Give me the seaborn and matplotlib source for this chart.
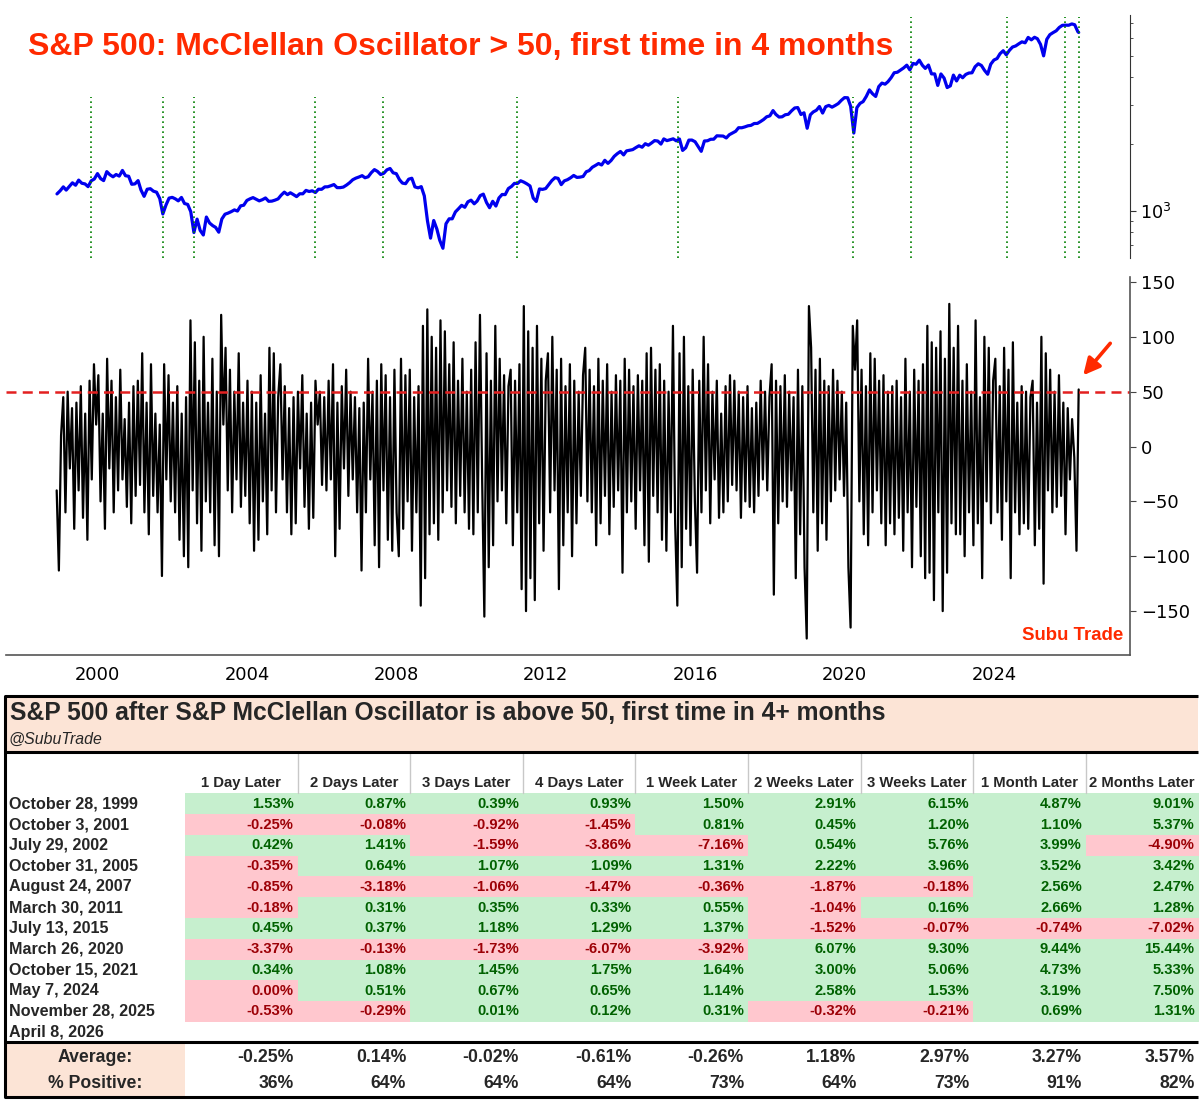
import matplotlib
matplotlib.use("Agg")
import matplotlib.pyplot as plt
import matplotlib.dates as mdates
from matplotlib.patches import Rectangle
from matplotlib.ticker import NullFormatter
import seaborn as sns
import pandas as pd

# ---------------- data ----------------
# S&P 500, one value per month (Nov 1998 .. Mar 2026) plus Apr 8 2026
price = [
    1190, 1229,
    1280, 1238, 1286, 1335, 1302, 1373, 1329, 1320, 1283, 1363, 1389, 1469,
    1394, 1366, 1499, 1452, 1421, 1455, 1431, 1518, 1437, 1429, 1315, 1320,
    1366, 1240, 1160, 1249, 1256, 1224, 1211, 1134, 966, 1060, 1139, 1148,
    1130, 1107, 1147, 1077, 1067, 990, 797, 916, 815, 777, 936, 880,
    856, 841, 800, 917, 964, 975, 990, 1008, 996, 1051, 1058, 1112,
    1131, 1145, 1126, 1107, 1121, 1141, 1102, 1104, 1115, 1130, 1174, 1212,
    1181, 1204, 1181, 1157, 1192, 1191, 1234, 1220, 1229, 1207, 1249, 1248,
    1280, 1281, 1295, 1311, 1270, 1270, 1277, 1304, 1336, 1378, 1401, 1418,
    1438, 1407, 1421, 1482, 1531, 1503, 1455, 1474, 1527, 1549, 1481, 1468,
    1379, 1331, 1323, 1386, 1400, 1280, 1267, 1283, 1166, 899, 752, 903,
    826, 735, 677, 873, 919, 919, 987, 1021, 1057, 1036, 1096, 1115,
    1074, 1104, 1169, 1187, 1089, 1031, 1102, 1049, 1141, 1183, 1181, 1258,
    1286, 1327, 1326, 1364, 1345, 1321, 1292, 1140, 1100, 1253, 1247, 1258,
    1312, 1366, 1408, 1398, 1310, 1362, 1379, 1407, 1441, 1412, 1416, 1426,
    1498, 1515, 1569, 1598, 1631, 1606, 1686, 1633, 1682, 1757, 1806, 1848,
    1783, 1859, 1872, 1884, 1924, 1960, 1931, 2003, 1972, 2018, 2068, 2059,
    1995, 2105, 2068, 2086, 2107, 2063, 2104, 1868, 1920, 2079, 2080, 2044,
    1940, 1850, 2060, 2065, 2097, 2099, 2174, 2171, 2168, 2126, 2199, 2239,
    2279, 2364, 2363, 2384, 2412, 2423, 2470, 2472, 2519, 2575, 2648, 2674,
    2824, 2714, 2641, 2648, 2705, 2718, 2816, 2902, 2914, 2712, 2760, 2351,
    2704, 2784, 2834, 2946, 2752, 2942, 2980, 2926, 2977, 3038, 3141, 3231,
    3226, 2954, 2237, 2912, 3044, 3100, 3271, 3500, 3363, 3270, 3622, 3756,
    3714, 3811, 3973, 4181, 4204, 4298, 4395, 4523, 4308, 4605, 4567, 4766,
    4516, 4374, 4530, 4132, 4132, 3667, 4130, 3955, 3586, 3650, 4080, 3840,
    4077, 3970, 4109, 4169, 4180, 4450, 4589, 4508, 4288, 4117, 4568, 4770,
    4846, 5096, 5254, 5036, 5278, 5460, 5522, 5648, 5762, 5705, 6032, 5882,
    6041, 5955, 5612, 4983, 5912, 6205, 6339, 6460, 6688, 6840, 6849, 6845,
    6939, 6880, 6400,
    6350,
]
price_dates = list(pd.date_range("1998-11-30", "2026-03-31", freq="ME")) + [pd.Timestamp("2026-04-08")]

# McClellan oscillator, roughly every three weeks (Nov 1998 .. Apr 8 2026)
osc = [
    -40, -113, 10,
    45, -60, 50, -20, 35, -75, 40, -40, 55, -65, 30, -85, 60, -30, 75, 20, 65,
    -50, 30, -75, 80, -20, 60, -60, 45, -40, 70, -30, 25, -55, 40, -70, 55, -45,
    60, -35, 85, -60, 40, -80, 75, -45, 30, -60, 20, -118, 75, -30, 65, -50, 40,
    -60, 55, -85, 30, -100, 45, -110, 115, -40, 95, -70, 60, -95, 100, -50, 40, -60,
    80, -90, 50, -100, 120, 20, 90, -40, 70, -60, 50, -30, 85, -55, 40, -45, 60,
    -70, 50, -95, 40, -85, 65, -50, 30, -80, 90, -40, 85, -60, 45, 75, -30, 55,
    -60, 35, -80, 45, -70, 50, -20, 65, -55, 30, -75, 40, -65, 60, 20, 50, -35,
    45, -40, 60, -30, 75, -100, 40, -75, 55, -20, 70, -45, 50, -30, 45, -60, 35,
    -113, 40, -60, 80, -30, 50, -90, 60, -110, 75, -40, 65, -85, 45, -95, 70, -60,
    -100, 80, -75, 65, -50, 70, -95, 45, -60, 55, -145, 110, -120, 125, -80, 100, -70,
    90, -85, 115, -60, 105, -40, 75, -55, 95, -70, 60, -45, 80, -60, 50, -75, 70,
    -80, 95, -60, 120, -30, -155, 85, -110, 60, -90, 110, -50, 80, -40, 65, -70, 55,
    70, -90, 60, -60, 75, -130, 128, -150, 105, -120, 90, -140, 110, -70, 80, -95, 60,
    85, -60, 100, -40, 70, -130, 80, -90, 55, -60, 75, -100, 60, -70, 50, -45, 65,
    90, -50, 70, -60, 55, -90, 80, -70, 60, -45, 75, -80, 50, -55, 65, -40, 60,
    -115, 80, -60, 70, -50, 55, -75, 65, -40, 60, -90, 85, -105, 90, -45, 70, -60,
    75, -85, 60, -95, 50, -60, 110, -70, -145, 85, -110, 100, -75, 55, -90, 70, -50,
    -115, 60, -60, 100, -40, 75, -70, 50, -30, 60, -65, 30, -60, 55, -50, 65, -35,
    60, -40, 50, -65, 45, -50, 55, -55, 35, -60, 40, -45, 60, -30, 50, -40, 45,
    75, -135, 60, -70, 55, -50, 65, -55, 50, -40, 45, -120, 70, -80, 55, -110, -175,
    128, 90, -60, 70, -95, 80, -70, 60, -85, 55, -50, 70, -40, 60, -30, 50, -45,
    40, -110, -165, 110, 70, 115, -50, 70, -80, 55, -90, 85, -60, 80, -40, 60, -70,
    65, -90, 50, -70, 55, -80, 60, -65, 45, -95, 80, -60, 50, -110, 70, -55, 60,
    -100, 75, -120, 110, -115, 95, -140, 90, -60, 105, -150, 80, -115, 130, -70, 90, -80,
    110, -80, 60, -100, 75, -60, 50, -90, 115, -70, 45, -120, 100, -50, 90, -70, 60,
    80, -60, 55, -85, 90, -50, 70, -120, 95, -60, 40, -80, 55, -70, 50, -75, 45,
    60, -90, 40, -75, 100, -125, 85, -40, 70, -60, 50, -55, 65, -45, 40, -80, 35,
    -30, 25, -10, -95, 52,
]
osc_dates = pd.date_range("1998-11-27", "2026-04-08", periods=len(osc))

event_dates = pd.to_datetime([
    "1999-10-28", "2001-10-03", "2002-07-29", "2005-10-31", "2007-08-24",
    "2011-03-30", "2015-07-13", "2020-03-26", "2021-10-15", "2024-05-07",
    "2025-11-28", "2026-04-08",
])

horizons = ["1 Day Later", "2 Days Later", "3 Days Later", "4 Days Later", "1 Week Later",
            "2 Weeks Later", "3 Weeks Later", "1 Month Later", "2 Months Later"]
fwd_returns = [
    [1.53, 0.87, 0.39, 0.93, 1.50, 2.91, 6.15, 4.87, 9.01],
    [-0.25, -0.08, -0.92, -1.45, 0.81, 0.45, 1.20, 1.10, 5.37],
    [0.42, 1.41, -1.59, -3.86, -7.16, 0.54, 5.76, 3.99, -4.90],
    [-0.35, 0.64, 1.07, 1.09, 1.31, 2.22, 3.96, 3.52, 3.42],
    [-0.85, -3.18, -1.06, -1.47, -0.36, -1.87, -0.18, 2.56, 2.47],
    [-0.18, 0.31, 0.35, 0.33, 0.55, -1.04, 0.16, 2.66, 1.28],
    [0.45, 0.37, 1.18, 1.29, 1.37, -1.52, -0.07, -0.74, -7.02],
    [-3.37, -0.13, -1.73, -6.07, -3.92, 6.07, 9.30, 9.44, 15.44],
    [0.34, 1.08, 1.45, 1.75, 1.64, 3.00, 5.06, 4.73, 5.33],
    [0.00, 0.51, 0.67, 0.65, 1.14, 2.58, 1.53, 3.19, 7.50],
    [-0.53, -0.29, 0.01, 0.12, 0.31, -0.32, -0.21, 0.69, 1.31],
    [],
]
averages = [-0.25, 0.14, -0.02, -0.61, -0.26, 1.18, 2.97, 3.27, 3.57]
pct_positive = [36, 64, 64, 64, 73, 64, 73, 91, 82]

price_df = pd.DataFrame({"Date": price_dates, "Price": price})
osc_df = pd.DataFrame({"Date": osc_dates, "Osc": osc})

# ---------------- style ----------------
sns.set_style("white")
plt.rcParams["font.family"] = ["DejaVu Sans"]
ARIAL = "Liberation Sans"
RED = "#FF2A00"
W, H = 1200, 1110


def fy(y):
    return 1 - y / H


def year_ts(y):
    return pd.Timestamp("2000-01-01") + pd.Timedelta(days=(y - 2000) * 365.25)


fig = plt.figure(figsize=(12, 11.1), dpi=100)

# table canvas in pixel coordinates
tab = fig.add_axes([0, 0, 1, 1])
tab.set_xlim(0, W)
tab.set_ylim(H, 0)
tab.axis("off")

ax1 = fig.add_axes([6 / W, fy(258), 1124 / W, 243 / H])
ax2 = fig.add_axes([6 / W, fy(655), 1124 / W, 378 / H])
xlim = (year_ts(1997.548), year_ts(2027.641))

# ---- top panel: price ----
sns.lineplot(data=price_df, x="Date", y="Price", ax=ax1, color="#0000EE", linewidth=2.3)
ax1.set_yscale("log")
ax1.set_ylim(612, 7612)
ax1.set_xlim(*xlim)
for d in event_dates:
    ax1.axvline(d, ymin=0, ymax=0.663 if d.year < 2021 else 0.99,
                color="green", linestyle=(0, (1, 2)), linewidth=1.2)
ax1.yaxis.tick_right()
ax1.yaxis.set_minor_formatter(NullFormatter())
ax1.tick_params(axis="y", which="major", length=4, labelsize=12.7, colors="#333333", labelcolor="black")
ax1.tick_params(axis="y", which="minor", length=2.5, colors="#333333")
ax1.set_xticks([])
ax1.set_xlabel("")
ax1.set_ylabel("")
for s in ["left", "top", "bottom"]:
    ax1.spines[s].set_visible(False)
ax1.spines["right"].set_color("#333333")

# ---- middle panel: oscillator ----
sns.lineplot(data=osc_df, x="Date", y="Osc", ax=ax2, color="black", linewidth=1.6)
ax2.axhline(50, color="#E32020", linestyle=(0, (4, 2.5)), linewidth=1.8)
ax2.set_xlim(*xlim)
ax2.set_ylim(-190, 154.5)
ax2.set_yticks([-150, -100, -50, 0, 50, 100, 150])
ax2.yaxis.tick_right()
ax2.xaxis.set_major_locator(mdates.YearLocator(4))
ax2.xaxis.set_major_formatter(mdates.DateFormatter("%Y"))
ax2.tick_params(axis="both", length=4.5, labelsize=12.9, colors="#444444", labelcolor="black")
ax2.set_xlabel("")
ax2.set_ylabel("")
for s in ["left", "top"]:
    ax2.spines[s].set_visible(False)
for s in ["right", "bottom"]:
    ax2.spines[s].set_color("#555555")
    ax2.spines[s].set_linewidth(1.2)
ax2.annotate("", xy=(year_ts(2026.34), 63), xytext=(year_ts(2027.16), 96),
             arrowprops=dict(arrowstyle="-|>,head_length=1.0,head_width=0.5",
                             color=RED, lw=2.6))

fig.text(28 / W, fy(47), "S&P 500: McClellan Oscillator > 50, first time in 4 months",
         color=RED, fontsize=23, fontweight="bold", family=ARIAL, va="center", ha="left")
fig.text(1123 / W, fy(636), "Subu Trade", color=RED, fontsize=13.4, fontweight="bold",
         family=ARIAL, va="center", ha="right")

# ---------------- table ----------------
PEACH = "#FCE4D6"
GREEN_BG, GREEN_FG = "#C6EFCE", "#006100"
RED_BG, RED_FG = "#FFC7CE", "#9C0006"
L, R = 5, 1198
TOP, T_LINE, SUM_LINE, BOTTOM = 696, 751.5, 1042, 1097
col_w = 112.6
edges = [185 + i * col_w for i in range(len(horizons) + 1)]
row_y0, row_h = 793.4, 20.77

tab.add_patch(Rectangle((L, TOP), R - L, T_LINE - TOP, fc=PEACH, ec="none"))
tab.add_patch(Rectangle((L, SUM_LINE), edges[0] - L, BOTTOM - SUM_LINE, fc=PEACH, ec="none"))
tab.text(10, 712.5, "S&P 500 after S&P McClellan Oscillator is above 50, first time in 4+ months",
         fontsize=17.7, fontweight="bold", family=ARIAL, va="center", ha="left")
tab.text(9, 739, "@SubuTrade", fontsize=11.4, fontstyle="italic", family=ARIAL,
         va="center", ha="left")

for j, h in enumerate(horizons):
    tab.text(edges[j] + col_w / 2, 783, h, fontsize=10.7, fontweight="bold", family=ARIAL,
             ha="center", va="center")
for x in edges[1:-1]:
    tab.plot([x, x], [T_LINE + 1, row_y0], color="#C8C8C8", lw=1)

for i, (d, row) in enumerate(zip(event_dates, fwd_returns)):
    yc = row_y0 + (i + 0.5) * row_h
    tab.text(9, yc, f"{d:%B} {d.day}, {d.year}", fontsize=11.6, fontweight="bold",
             family=ARIAL, ha="left", va="center")
    for j, v in enumerate(row):
        pos = v > 0
        tab.add_patch(Rectangle((edges[j], row_y0 + i * row_h), col_w + 0.5, row_h + 0.3,
                                fc=GREEN_BG if pos else RED_BG, ec="none"))
        tab.text(edges[j + 1] - 4, yc, f"{v:.2f}%", color=GREEN_FG if pos else RED_FG,
                 fontsize=10.6, fontweight="bold", family=ARIAL, ha="right", va="center")

for yc, label, vals in [(1058, "Average:", [f"{v:.2f}%" for v in averages]),
                        (1084, "% Positive:", [f"{v}%" for v in pct_positive])]:
    tab.text(95, yc, label, fontsize=12.7, fontweight="bold", family=ARIAL,
             ha="center", va="center")
    for j, s in enumerate(vals):
        tab.text(edges[j + 1] - 4, yc, s, fontsize=12.7, fontweight="bold", family=ARIAL,
                 ha="right", va="center")

for y in [TOP, T_LINE, SUM_LINE, BOTTOM]:
    tab.plot([L, R], [y, y], color="black", lw=2.2, solid_capstyle="butt")
tab.plot([L, L], [TOP, BOTTOM], color="black", lw=2.2)

fig.savefig("out.png", dpi=100)
